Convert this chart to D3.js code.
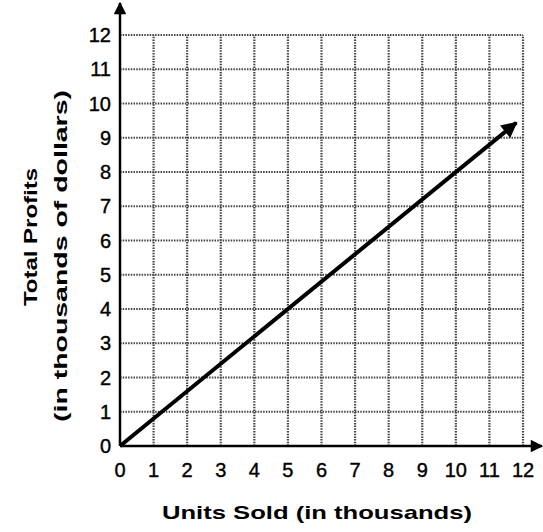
<!DOCTYPE html>
<html><head><meta charset="utf-8">
<script src="https://cdn.jsdelivr.net/npm/d3@7"></script>
<style>html,body{margin:0;padding:0;background:#fff;}svg{display:block;}</style>
</head><body>
<script>
const xTicks = [0,1,2,3,4,5,6,7,8,9,10,11,12];
const yTicks = [0,1,2,3,4,5,6,7,8,9,10,11,12];
const unitsSold = [0, 11.8];
const totalProfits = [0, 9.44];
const xTitle = "Units Sold (in thousands)";
const yTitle = ["Total Profits", "(in thousands of dollars)"];

const W = 543, H = 532;
const svg = d3.select("body").append("svg").attr("width", W).attr("height", H);
const x = d3.scaleLinear().domain([0, 12]).range([120, 523]);
const y = d3.scaleLinear().domain([0, 12]).range([446, 35]);

const defs = svg.append("defs");
defs.append("marker").attr("id","arr").attr("viewBox","0 0 10 10").attr("refX",9).attr("refY",5)
  .attr("markerWidth",5.5).attr("markerHeight",4).attr("orient","auto").attr("markerUnits","strokeWidth")
  .append("path").attr("d","M0,0 L10,5 L0,10 z").attr("fill","#000");
defs.append("marker").attr("id","arrAx").attr("viewBox","0 0 10 10").attr("refX",9).attr("refY",5)
  .attr("markerWidth",7).attr("markerHeight",5).attr("orient","auto").attr("markerUnits","strokeWidth")
  .append("path").attr("d","M0,0 L10,5 L0,10 z").attr("fill","#000");

// grid
const g = svg.append("g");
g.selectAll("line.v").data(xTicks.filter(d=>d>0)).join("line")
  .attr("x1", d=>x(d)).attr("x2", d=>x(d)).attr("y1", y(0)).attr("y2", y(12))
  .attr("stroke","#444").attr("stroke-width",2.2).attr("stroke-dasharray","1.5,1.2");
g.selectAll("line.h").data(yTicks.filter(d=>d>0)).join("line")
  .attr("x1", x(0)).attr("x2", x(12)).attr("y1", d=>y(d)).attr("y2", d=>y(d))
  .attr("stroke","#444").attr("stroke-width",2.2).attr("stroke-dasharray","1.5,1.2");

// axes
svg.append("line").attr("x1", x(0)).attr("x2", 542).attr("y1", y(0)).attr("y2", y(0))
  .attr("stroke","#000").attr("stroke-width",2.5).attr("marker-end","url(#arrAx)");
svg.append("line").attr("x1", x(0)).attr("x2", x(0)).attr("y1", y(0)).attr("y2", 3)
  .attr("stroke","#000").attr("stroke-width",2.5).attr("marker-end","url(#arrAx)");

// tick labels
const font = "'Liberation Sans', Arial, sans-serif";
svg.selectAll("text.xt").data(xTicks).join("text")
  .attr("x", d=>x(d)).attr("y", 477).attr("text-anchor","middle")
  .attr("font-family", font).attr("font-size", 20).attr("fill","#000")
  .attr("stroke","#000").attr("stroke-width",0.4).text(d=>d);
svg.selectAll("text.yt").data(yTicks).join("text")
  .attr("x", 111).attr("y", d=>y(d)+7).attr("text-anchor","end")
  .attr("font-family", font).attr("font-size", 20).attr("fill","#000")
  .attr("stroke","#000").attr("stroke-width",0.4).text(d=>d);

// data line
const lineData = unitsSold.map((u,i)=>[u, totalProfits[i]]);
svg.append("path").datum(lineData)
  .attr("d", d3.line().x(d=>x(d[0])).y(d=>y(d[1])))
  .attr("fill","none").attr("stroke","#000").attr("stroke-width",4).attr("marker-end","url(#arr)");

// titles
svg.append("text").attr("x", 317).attr("y", 519).attr("text-anchor","middle")
  .attr("font-family", font).attr("font-weight","bold").attr("font-size", 19)
  .attr("textLength", 310).attr("lengthAdjust","spacingAndGlyphs").text(xTitle);
svg.append("text").attr("transform","translate(37,237) rotate(-90)").attr("text-anchor","middle")
  .attr("font-family", font).attr("font-weight","bold").attr("font-size", 19)
  .attr("textLength", 138).attr("lengthAdjust","spacingAndGlyphs").text(yTitle[0]);
svg.append("text").attr("transform","translate(67,256) rotate(-90)").attr("text-anchor","middle")
  .attr("font-family", font).attr("font-weight","bold").attr("font-size", 19)
  .attr("textLength", 332).attr("lengthAdjust","spacingAndGlyphs").text(yTitle[1]);
</script>
</body></html>
